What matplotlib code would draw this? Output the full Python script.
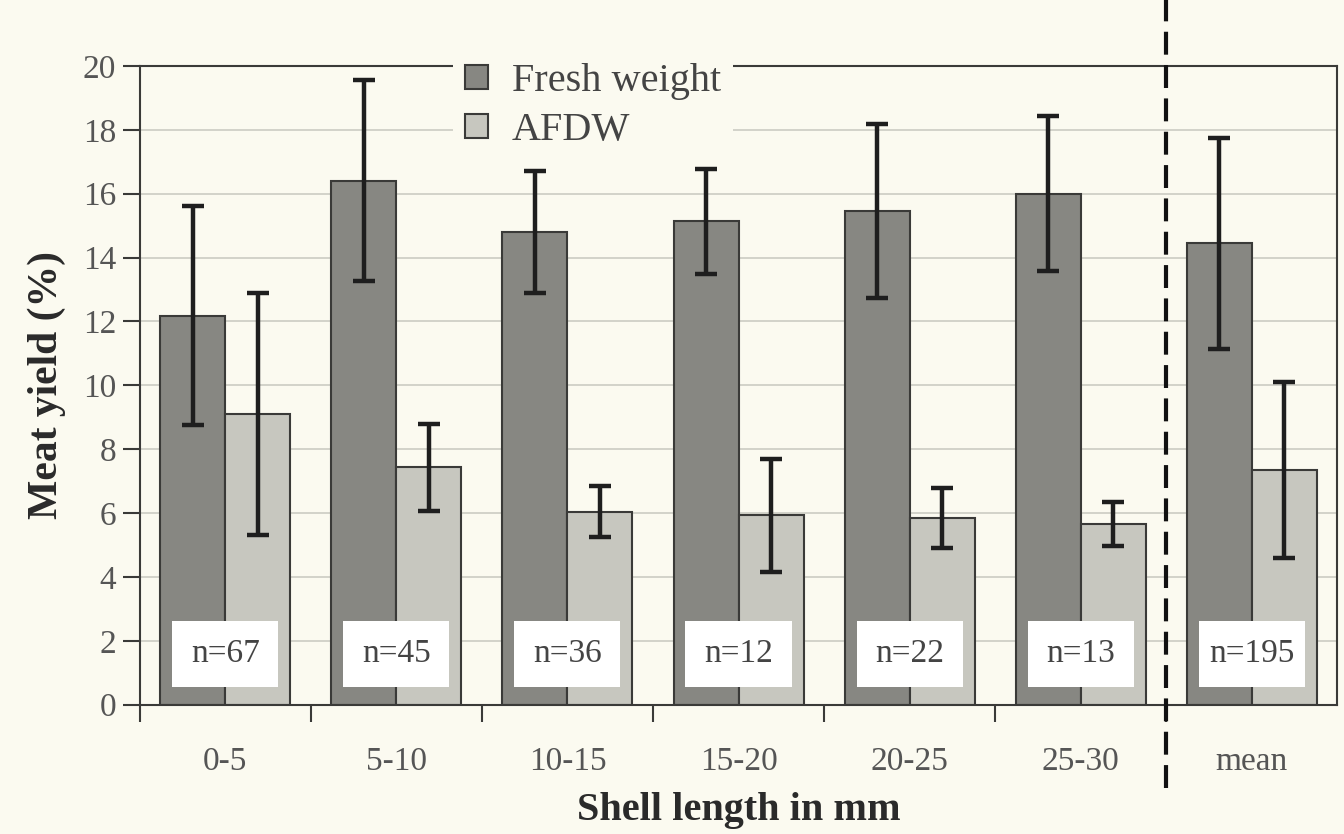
import numpy as np
import matplotlib.pyplot as plt
from matplotlib.patches import Rectangle, Patch

# data
classes = ['0-5', '5-10', '10-15', '15-20', '20-25', '25-30', 'mean']
fresh = [12.18, 16.4, 14.8, 15.14, 15.46, 16.0, 14.45]
fresh_err = [3.43, 3.15, 1.9, 1.64, 2.73, 2.43, 3.3]
afdw = [9.1, 7.43, 6.04, 5.93, 5.85, 5.66, 7.35]
afdw_err = [3.8, 1.35, 0.8, 1.77, 0.95, 0.7, 2.75]
n_labels = ['n=67', 'n=45', 'n=36', 'n=12', 'n=22', 'n=13', 'n=195']

plt.rcParams['font.family'] = ['Liberation Serif', 'DejaVu Serif']

bg = '#fbfaf0'
dark = '#878782'
light = '#c7c7bf'
edge = '#3a3a38'

fig = plt.figure(figsize=(13.44, 8.34), dpi=100, facecolor=bg)
ax = fig.add_axes([0.104, 0.155, 0.891, 0.766], facecolor=bg)

x = np.arange(len(classes))
w = 0.38

#---------------------------------------------------------------------
# bars + error bars
#---------------------------------------------------------------------
ax.bar(x - w / 2, fresh, w, color=dark, edgecolor=edge, linewidth=1.5, zorder=2)
ax.bar(x + w / 2, afdw, w, color=light, edgecolor=edge, linewidth=1.5, zorder=2)
ax.errorbar(x - w / 2, fresh, yerr=fresh_err, fmt='none', ecolor='#1e1e1e',
            elinewidth=3.2, capsize=8, capthick=3.2, zorder=3)
ax.errorbar(x + w / 2, afdw, yerr=afdw_err, fmt='none', ecolor='#1e1e1e',
            elinewidth=3.2, capsize=8, capthick=3.2, zorder=3)

# white boxes with sample sizes
for xi, lab in zip(x, n_labels):
    ax.add_patch(Rectangle((xi - 0.31, 0.57), 0.62, 2.05, facecolor='white',
                           edgecolor='none', zorder=4))
    ax.text(xi, 1.6, lab, ha='center', va='center', fontsize=24,
            color='#444444', zorder=5)

# dashed separator before the mean
ax.plot([5.5, 5.5], [-2.6, 22.1], color='#111111', linestyle=(0, (5.5, 2.5)),
        linewidth=3, clip_on=False, zorder=6)

#---------------------------------------------------------------------
# axes formatting
#---------------------------------------------------------------------
ax.set_xlim(-0.5, 6.5)
ax.set_ylim(0, 20)
ax.set_yticks(np.arange(0, 21, 2))
ax.set_xticks(x)
ax.set_xticklabels(classes)
ax.set_xticks(np.arange(-0.5, 6.0, 1.0), minor=True)
ax.tick_params(axis='x', which='major', length=0, pad=30, labelsize=24,
               labelcolor='#555555')
ax.tick_params(axis='x', which='minor', length=12, width=1.5, color=edge,
               direction='out')
ax.tick_params(axis='y', length=12, width=1.5, color=edge, labelsize=24,
               labelcolor='#555555', pad=5)
ax.grid(True, axis='y', color='#cfcfc6', linewidth=1.3, zorder=0)
ax.set_axisbelow(True)
for s in ax.spines.values():
    s.set_color(edge)
    s.set_linewidth(1.5)

ax.set_ylabel('Meat yield (%)', fontsize=30, fontweight='bold', color='#2a2a2a',
              labelpad=12)
ax.set_xlabel('Shell length in mm', fontsize=29, fontweight='bold',
              color='#2a2a2a', labelpad=11)

handles = [Patch(facecolor=dark, edgecolor=edge, linewidth=1.5),
           Patch(facecolor=light, edgecolor=edge, linewidth=1.5)]
leg = ax.legend(handles, ['Fresh weight', 'AFDW'], loc='upper left',
                bbox_to_anchor=(0.245, 1.055), fontsize=29, frameon=True,
                facecolor=bg, edgecolor='none', framealpha=1,
                handlelength=0.55, handleheight=0.55, handletextpad=0.6,
                labelspacing=0.3, borderpad=0.3, fancybox=False)
for t in leg.get_texts():
    t.set_color('#444444')
leg.set_zorder(7)

plt.savefig('out.png', dpi=100, facecolor=bg)
